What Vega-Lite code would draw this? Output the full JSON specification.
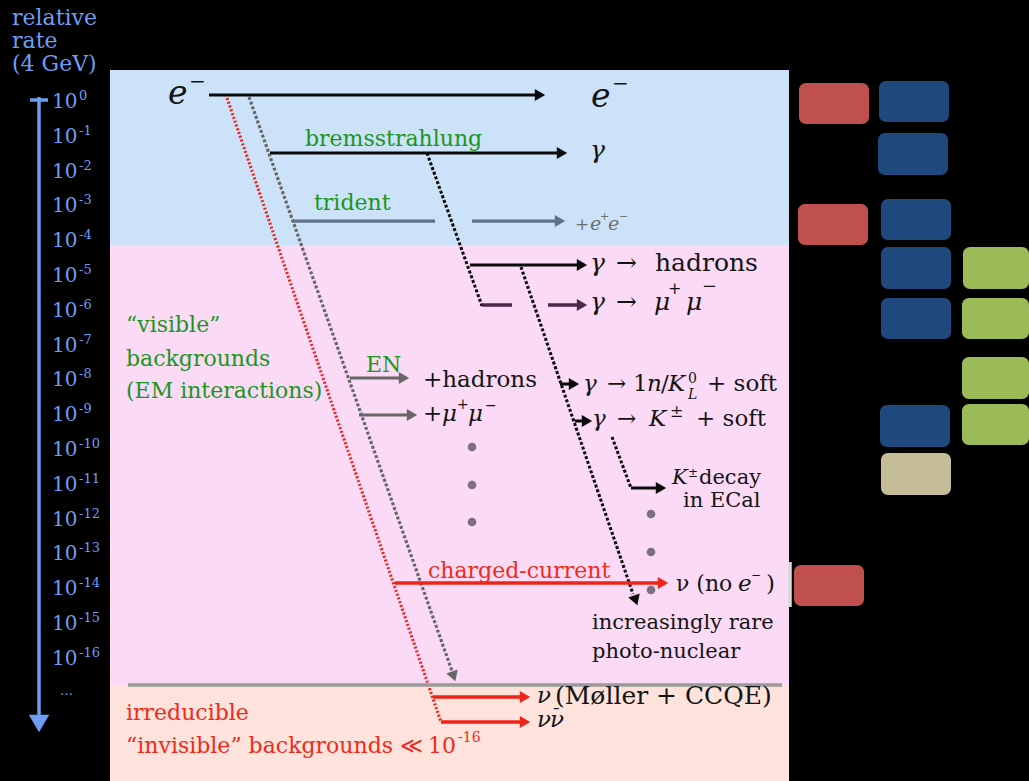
{
"$schema":"https://vega.github.io/schema/vega-lite/v6.json",
"width":1029,"height":781,"padding":0,"autosize":{"type":"none"},
"background":"#000000",
"config":{"view":{"stroke":null},"text":{"font":"DejaVu Serif","align":"left","baseline":"alphabetic"}},
"datasets":{
 "ticks":[{"x":52,"y":108,"exp":"0"},{"x":52,"y":143,"exp":"-1"},{"x":52,"y":178,"exp":"-2"},{"x":52,"y":212,"exp":"-3"},{"x":52,"y":247,"exp":"-4"},{"x":52,"y":282,"exp":"-5"},{"x":52,"y":317,"exp":"-6"},{"x":52,"y":352,"exp":"-7"},{"x":52,"y":386,"exp":"-8"},{"x":52,"y":421,"exp":"-9"},{"x":52,"y":456,"exp":"-10"},{"x":52,"y":491,"exp":"-11"},{"x":52,"y":526,"exp":"-12"},{"x":52,"y":560,"exp":"-13"},{"x":52,"y":595,"exp":"-14"},{"x":52,"y":630,"exp":"-15"},{"x":52,"y":665,"exp":"-16"}]
},
"encoding":{
 "x":{"field":"x","type":"quantitative","scale":{"domain":[0,1029],"nice":false,"zero":false},"axis":null},
 "y":{"field":"y","type":"quantitative","scale":{"domain":[0,781],"nice":false,"zero":false,"reverse":true},"axis":null}
},
"resolve":{"scale":{"color":"independent","strokeDash":"independent","strokeWidth":"independent"}},
"layer":[
 {"data":{"values":[
   {"zone":"electromagnetic","x":110,"x2":789,"y":70,"y2":245},
   {"zone":"visible","x":110,"x2":789,"y":245,"y2":685},
   {"zone":"invisible","x":110,"x2":789,"y":685,"y2":781}]},
  "mark":{"type":"rect"},
  "encoding":{"x2":{"field":"x2"},"y2":{"field":"y2"},
   "color":{"field":"zone","type":"nominal","legend":null,"scale":{"domain":["electromagnetic","visible","invisible"],"range":["#cbe2f8","#fbdaf6","#fde3dc"]}}}},
 {"data":{"values":[
   {"cat":"red","x":799,"x2":869,"y":83,"y2":124},
   {"cat":"blue","x":879,"x2":949,"y":81,"y2":122},
   {"cat":"blue","x":878,"x2":948,"y":133,"y2":175},
   {"cat":"red","x":798,"x2":868,"y":204,"y2":245},
   {"cat":"blue","x":881,"x2":951,"y":199,"y2":240},
   {"cat":"blue","x":881,"x2":951,"y":247,"y2":289},
   {"cat":"green","x":963,"x2":1029,"y":247,"y2":289},
   {"cat":"blue","x":881,"x2":951,"y":298,"y2":339},
   {"cat":"green","x":962,"x2":1029,"y":298,"y2":339},
   {"cat":"green","x":962,"x2":1029,"y":357,"y2":399},
   {"cat":"blue","x":880,"x2":950,"y":405,"y2":447},
   {"cat":"green","x":962,"x2":1029,"y":404,"y2":445},
   {"cat":"tan","x":881,"x2":951,"y":453,"y2":495},
   {"cat":"red","x":794,"x2":864,"y":565,"y2":606}]},
  "mark":{"type":"rect","cornerRadius":7},
  "encoding":{"x2":{"field":"x2"},"y2":{"field":"y2"},
   "color":{"field":"cat","type":"nominal","legend":null,"scale":{"domain":["red","blue","green","tan"],"range":["#c0504d","#1f497d","#9bbb59","#c4bd97"]}}}},
 {"data":{"values":[
   {"kind":"beam","x":209,"y":95,"x2":540,"y2":95},
   {"kind":"invisible","x":227,"y":98,"x2":441,"y2":722},
   {"kind":"electronuclear","x":249,"y":97,"x2":452,"y2":671},
   {"kind":"beam","x":270,"y":153,"x2":562,"y2":153},
   {"kind":"trident","x":293,"y":221,"x2":435,"y2":221},
   {"kind":"trident","x":472,"y":221,"x2":560,"y2":221},
   {"kind":"photon-path","x":427,"y":153,"x2":482,"y2":306},
   {"kind":"beam","x":470,"y":265,"x2":582,"y2":265},
   {"kind":"dimuon","x":482,"y":305,"x2":512,"y2":305},
   {"kind":"dimuon","x":548,"y":305,"x2":582,"y2":305},
   {"kind":"photon-path","x":521,"y":267,"x2":633,"y2":594},
   {"kind":"beam","x":560,"y":384,"x2":574,"y2":384},
   {"kind":"beam","x":575,"y":421,"x2":587,"y2":421},
   {"kind":"photon-path","x":612,"y":437,"x2":631,"y2":488},
   {"kind":"beam","x":631,"y":488,"x2":661,"y2":488},
   {"kind":"en","x":350,"y":378,"x2":404,"y2":378},
   {"kind":"en","x":359,"y":415,"x2":412,"y2":415},
   {"kind":"neutrino","x":395,"y":583,"x2":663,"y2":583},
   {"kind":"neutrino","x":433,"y":697,"x2":525,"y2":697},
   {"kind":"neutrino","x":441,"y":722,"x2":525,"y2":722},
   {"kind":"boundary","x":128,"y":685,"x2":782,"y2":685},
   {"kind":"axis","x":39,"y":97,"x2":39,"y2":722},
   {"kind":"axis","x":30,"y":100,"x2":48,"y2":100},
   {"kind":"bracket","x":790,"y":562,"x2":790,"y2":607}]},
  "mark":{"type":"rule"},
  "encoding":{"x2":{"field":"x2"},"y2":{"field":"y2"},
   "color":{"field":"kind","type":"nominal","legend":null,"scale":{"domain":["beam","photon-path","invisible","electronuclear","en","trident","dimuon","neutrino","boundary","axis","bracket"],"range":["#0a0a0a","#0a0a0a","#f0231a","#666666","#676767","#5e7388","#4b2a4a","#ef2418","#9a9a9a","#6e9df2","#d8d8d8"]}},
   "strokeDash":{"field":"kind","type":"nominal","legend":null,"scale":{"domain":["beam","photon-path","invisible","electronuclear","en","trident","dimuon","neutrino","boundary","axis","bracket"],"range":[[1,0],[3,2],[2,2],[3,2],[1,0],[1,0],[1,0],[1,0],[1,0],[1,0],[1,0]]}},
   "strokeWidth":{"field":"kind","type":"nominal","legend":null,"scale":{"domain":["beam","photon-path","invisible","electronuclear","en","trident","dimuon","neutrino","boundary","axis","bracket"],"range":[3,3.5,3,3.5,3.5,3,3,3.5,2.5,5,3]}}}},
 {"data":{"values":[
   {"kind":"beam","x":540,"y":95},{"kind":"beam","x":562,"y":153},{"kind":"trident","x":560,"y":221},
   {"kind":"beam","x":582,"y":265},{"kind":"dimuon","x":582,"y":305},{"kind":"en","x":404,"y":378},
   {"kind":"en","x":412,"y":415},{"kind":"beam","x":574,"y":384},{"kind":"beam","x":587,"y":421},
   {"kind":"beam","x":661,"y":488},{"kind":"neutrino","x":663,"y":583},{"kind":"neutrino","x":525,"y":697},
   {"kind":"neutrino","x":525,"y":722}]},
  "mark":{"type":"point","shape":"triangle-right","filled":true,"size":144,"opacity":1},
  "encoding":{"color":{"field":"kind","type":"nominal","legend":null,"scale":{"domain":["beam","trident","dimuon","en","neutrino"],"range":["#0a0a0a","#5e7388","#4b2a4a","#676767","#ef2418"]}}}},
 {"data":{"values":[{"kind":"photon-path","x":635.7,"y":600.4},{"kind":"electronuclear","x":453.7,"y":676.4}]},
  "mark":{"type":"point","shape":"triangle-down","filled":true,"size":144,"opacity":1,"angle":-19},
  "encoding":{"color":{"field":"kind","type":"nominal","legend":null,"scale":{"domain":["photon-path","electronuclear"],"range":["#0a0a0a","#666666"]}}}},
 {"data":{"values":[{"x":39,"y":723.5}]},
  "mark":{"type":"point","shape":"triangle-down","filled":true,"size":420,"opacity":1,"color":"#6e9df2"}},
 {"data":{"values":[{"x":472,"y":447},{"x":472,"y":485},{"x":472,"y":522},{"x":651,"y":514},{"x":651,"y":552},{"x":651,"y":590}]},
  "mark":{"type":"circle","size":75,"opacity":1,"color":"#7d6f7f"}},
 {"data":{"values":[{"t":"relative","x":12,"y":25},{"t":"rate","x":12,"y":48},{"t":"(4 GeV)","x":12,"y":71}]},
  "mark":{"type":"text","fontSize":22,"color":"#6e9ef3"},"encoding":{"text":{"field":"t","type":"nominal"}}},
 {"data":{"name":"ticks"},"mark":{"type":"text","fontSize":20,"color":"#6e9ef3"},"encoding":{"text":{"value":"10"}}},
 {"data":{"name":"ticks"},"mark":{"type":"text","fontSize":13,"color":"#6e9ef3","dx":27,"dy":-8},"encoding":{"text":{"field":"exp","type":"nominal"}}},
 {"data":{"values":[{"t":"…","x":60,"y":695}]},"mark":{"type":"text","fontSize":13,"color":"#6e9ef3"},"encoding":{"text":{"field":"t","type":"nominal"}}},
 {"data":{"values":[{"t":"bremsstrahlung","x":305,"y":146},{"t":"trident","x":314,"y":210},{"t":"EN","x":366,"y":372},{"t":"“visible”","x":126,"y":332},{"t":"backgrounds","x":126,"y":366},{"t":"(EM interactions)","x":126,"y":398}]},
  "mark":{"type":"text","fontSize":22,"color":"#1a961e"},"encoding":{"text":{"field":"t","type":"nominal"}}},
 {"data":{"values":[{"t":"charged-current","x":428,"y":578},{"t":"irreducible","x":126,"y":720},{"t":"“invisible” backgrounds ≪","x":126,"y":753},{"t":"10","x":428,"y":753}]},
  "mark":{"type":"text","fontSize":22,"color":"#ee2a1b"},"encoding":{"text":{"field":"t","type":"nominal"}}},
 {"data":{"values":[{"t":"-16","x":458,"y":742}]},
  "mark":{"type":"text","fontSize":14,"color":"#ee2a1b"},"encoding":{"text":{"field":"t","type":"nominal"}}},
 {"data":{"values":[{"t":"→","x":616,"y":271},{"t":"hadrons","x":655,"y":271},{"t":"→","x":616,"y":310}]},
  "mark":{"type":"text","fontSize":25,"color":"#141414"},"encoding":{"text":{"field":"t","type":"nominal"}}},
 {"data":{"values":[{"t":"→","x":607,"y":391},{"t":"1","x":633,"y":391},{"t":"/","x":661,"y":391},{"t":"+ soft","x":707,"y":391},{"t":"→","x":617,"y":426},{"t":"+ soft","x":696,"y":426},{"t":"+","x":423,"y":421},{"t":"+hadrons","x":423,"y":387},{"t":")","x":766,"y":591}]},
  "mark":{"type":"text","fontSize":23,"color":"#141414"},"encoding":{"text":{"field":"t","type":"nominal"}}},
 {"data":{"values":[{"t":"ν (no","x":676,"y":591}]},
  "mark":{"type":"text","fontSize":22,"color":"#141414"},"encoding":{"text":{"field":"t","type":"nominal"}}},
 {"data":{"values":[{"t":"decay","x":699,"y":484},{"t":"in ECal","x":683,"y":507},{"t":"increasingly rare","x":592,"y":629},{"t":"photo-nuclear","x":592,"y":658}]},
  "mark":{"type":"text","fontSize":21,"color":"#141414"},"encoding":{"text":{"field":"t","type":"nominal"}}},
 {"data":{"values":[{"t":"(Møller + CCQE)","x":555,"y":704}]},
  "mark":{"type":"text","fontSize":25,"color":"#141414"},"encoding":{"text":{"field":"t","type":"nominal"}}},
 {"data":{"values":[{"t":"e","x":168,"y":104},{"t":"e","x":591,"y":107}]},
  "mark":{"type":"text","fontSize":33,"fontStyle":"italic","color":"#141414"},"encoding":{"text":{"field":"t","type":"nominal"}}},
 {"data":{"values":[{"t":"γ","x":590,"y":158},{"t":"γ","x":590,"y":271},{"t":"γ","x":590,"y":310},{"t":"μ","x":654,"y":310},{"t":"μ","x":686,"y":310}]},
  "mark":{"type":"text","fontSize":25,"fontStyle":"italic","color":"#141414"},"encoding":{"text":{"field":"t","type":"nominal"}}},
 {"data":{"values":[{"t":"γ","x":583,"y":391},{"t":"n","x":647,"y":391},{"t":"K","x":668,"y":391},{"t":"γ","x":592,"y":426},{"t":"K","x":649,"y":426},{"t":"μ","x":442,"y":421},{"t":"μ","x":468,"y":421},{"t":"e","x":738,"y":591},{"t":"ν","x":537,"y":703},{"t":"ν","x":537,"y":727},{"t":"ν","x":550,"y":727}]},
  "mark":{"type":"text","fontSize":23,"fontStyle":"italic","color":"#141414"},"encoding":{"text":{"field":"t","type":"nominal"}}},
 {"data":{"values":[{"t":"K","x":672,"y":484}]},
  "mark":{"type":"text","fontSize":21,"fontStyle":"italic","color":"#141414"},"encoding":{"text":{"field":"t","type":"nominal"}}},
 {"data":{"values":[{"t":"L","x":688,"y":399}]},
  "mark":{"type":"text","fontSize":14,"fontStyle":"italic","color":"#141414"},"encoding":{"text":{"field":"t","type":"nominal"}}},
 {"data":{"values":[{"t":"−","x":189,"y":88},{"t":"−","x":612,"y":90}]},
  "mark":{"type":"text","fontSize":20,"color":"#141414"},"encoding":{"text":{"field":"t","type":"nominal"}}},
 {"data":{"values":[{"t":"−","x":702,"y":292}]},
  "mark":{"type":"text","fontSize":18,"color":"#141414"},"encoding":{"text":{"field":"t","type":"nominal"}}},
 {"data":{"values":[{"t":"+","x":668,"y":294},{"t":"±","x":670,"y":417}]},
  "mark":{"type":"text","fontSize":16,"color":"#141414"},"encoding":{"text":{"field":"t","type":"nominal"}}},
 {"data":{"values":[{"t":"0","x":688,"y":383},{"t":"+","x":457,"y":409},{"t":"−","x":485,"y":410}]},
  "mark":{"type":"text","fontSize":14,"color":"#141414"},"encoding":{"text":{"field":"t","type":"nominal"}}},
 {"data":{"values":[{"t":"¯","x":552,"y":721}]},
  "mark":{"type":"text","fontSize":17,"color":"#141414"},"encoding":{"text":{"field":"t","type":"nominal"}}},
 {"data":{"values":[{"t":"±","x":688,"y":477},{"t":"−","x":751,"y":579}]},
  "mark":{"type":"text","fontSize":12,"color":"#141414"},"encoding":{"text":{"field":"t","type":"nominal"}}},
 {"data":{"values":[{"t":"+","x":575,"y":230}]},
  "mark":{"type":"text","fontSize":17,"color":"#6e6e6e"},"encoding":{"text":{"field":"t","type":"nominal"}}},
 {"data":{"values":[{"t":"e","x":590,"y":230},{"t":"e","x":608,"y":230}]},
  "mark":{"type":"text","fontSize":19,"fontStyle":"italic","color":"#6e6e6e"},"encoding":{"text":{"field":"t","type":"nominal"}}},
 {"data":{"values":[{"t":"+","x":600,"y":220},{"t":"−","x":619,"y":220}]},
  "mark":{"type":"text","fontSize":11,"color":"#6e6e6e"},"encoding":{"text":{"field":"t","type":"nominal"}}}
]
}
